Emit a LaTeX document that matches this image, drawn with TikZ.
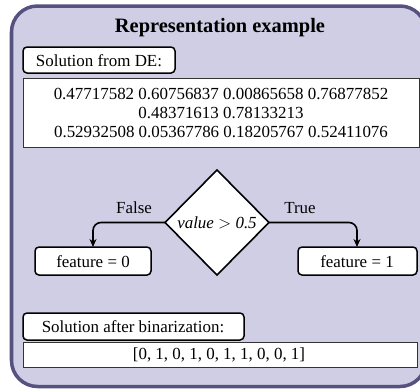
\documentclass[tikz,border=0pt]{standalone}
\usepackage{fontspec}
\setmainfont{Liberation Serif}
\usetikzlibrary{shapes.geometric,arrows.meta}
\definecolor{framefill}{RGB}{208,206,228}
\definecolor{frameline}{RGB}{86,81,126}
\begin{document}
\begin{tikzpicture}[x=1bp,y=-1bp,
  every node/.style={inner sep=0pt,outer sep=0pt},
  txt/.style={font=\fontsize{17}{19.5}\selectfont},
  labelbox/.style={draw=black,line width=1.5bp,rounded corners=4bp,fill=white},
  databox/.style={draw=black!80,line width=1bp,fill=white},
  conn/.style={draw=black,line width=1.6bp,rounded corners=8bp,-{Stealth[length=8bp,width=7bp]}}]
\useasboundingbox (0,0) rectangle (420,391);
\clip (0,0) rectangle (420,391);
\draw[frameline,fill=framefill,line width=3.5bp,rounded corners=26bp] (11.5,6) rectangle (426,386.5);
\node[font=\fontsize{20.5}{23}\selectfont\bfseries] (title) at (220,28) {Representation example};
% Solution from DE
\draw[labelbox] (23,47) rectangle (175,73);
\node[txt] (lab1) at (99,61) {Solution from DE:};
\draw[databox] (23,78) rectangle (419,147);
\node[txt,align=center] (nums) at (221,113) {0.47717582 0.60756837 0.00865658 0.76877852\\0.48371613 0.78133213\\0.52932508 0.05367786 0.18205767 0.52411076};
% diamond
\node[draw=black,line width=1.6bp,fill=white,diamond,minimum width=104bp,minimum height=105bp,aspect=1] (dia) at (217,222.5) {};
\node[txt,font=\fontsize{17}{19}\selectfont\itshape] (cond) at (217,223) {value $>$ 0.5};
% result boxes
\draw[labelbox] (35,247) rectangle (151,275);
\node[txt] (f0) at (93,262) {feature = 0};
\draw[labelbox] (298,247) rectangle (417,275);
\node[txt] (f1) at (357,262) {feature = 1};
\coordinate (f0top) at (93,247);
\coordinate (f1top) at (357,247);
\draw[conn] (dia.west) -| (f0top);
\draw[conn] (dia.east) -| (f1top);
\node[txt] (false) at (134,208) {False};
\node[txt] (true) at (300,208) {True};
% binarization
\draw[labelbox] (23,313) rectangle (244,340);
\node[txt] (lab2) at (133,327) {Solution after binarization:};
\draw[databox] (23,342) rectangle (417,367);
\node[txt] (bin) at (219,355) {[0, 1, 0, 1, 0, 1, 1, 0, 0, 1]};
\end{tikzpicture}
\end{document}
